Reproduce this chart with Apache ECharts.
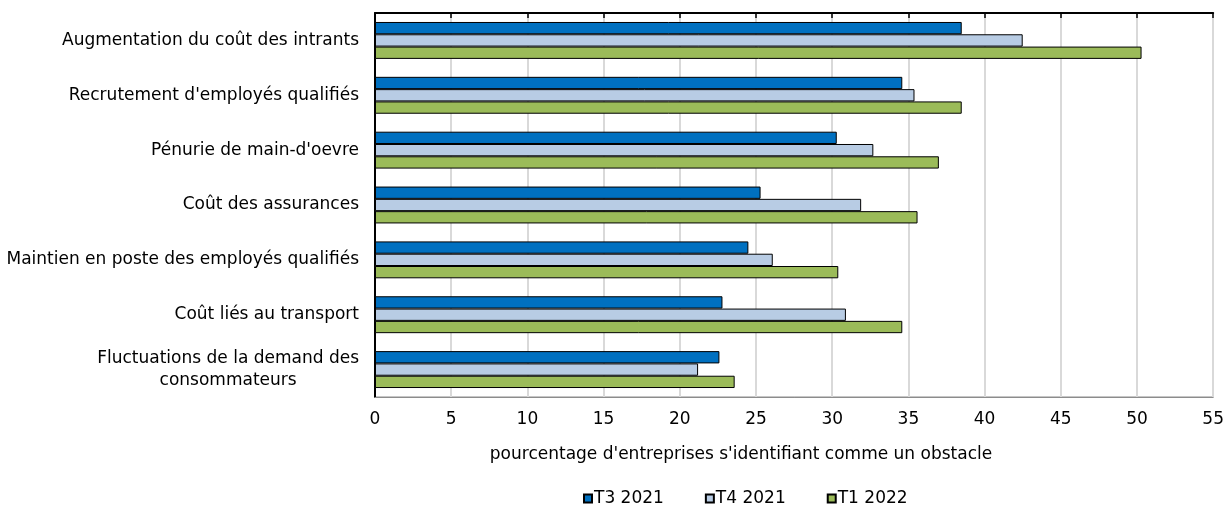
<!DOCTYPE html>
<html>
<head>
<meta charset="utf-8">
<script src="https://cdn.jsdelivr.net/npm/echarts@6/dist/echarts.min.js"></script>
<style>
html,body{margin:0;padding:0;background:#fff;}
#chart{width:1227px;height:508px;}
</style>
</head>
<body>
<div id="chart"></div>
<script>
var categories = [
  "Augmentation du coût des intrants",
  "Recrutement d'employés qualifiés",
  "Pénurie de main-d'oevre",
  "Coût des assurances",
  "Maintien en poste des employés qualifiés",
  "Coût liés au transport",
  "Fluctuations de la demand des\nconsommateurs"
];
var seriesNames = ["T3 2021", "T4 2021", "T1 2022"];
var t3_2021 = [38.5, 34.6, 30.3, 25.3, 24.5, 22.8, 22.6];
var t4_2021 = [42.5, 35.4, 32.7, 31.9, 26.1, 30.9, 21.2];
var t1_2022 = [50.3, 38.5, 37.0, 35.6, 30.4, 34.6, 23.6];
var xTicks = [0, 5, 10, 15, 20, 25, 30, 35, 40, 45, 50, 55];
var axisTitle = "pourcentage d'entreprises s'identifiant comme un obstacle";

var FONT = "DejaVu Sans";
var FS = 17;
var colors = ["#0070c0", "#b8cce4", "#9bbb59"];
var values = [t3_2021, t4_2021, t1_2022];

var chart = echarts.init(document.getElementById('chart'));
var series = seriesNames.map(function (n, i) {
  return {
    name: n,
    type: 'bar',
    data: values[i],
    barWidth: 12.3,
    barGap: '0%',
    itemStyle: { color: colors[i], borderColor: '#000', borderWidth: 1 },
    emphasis: { disabled: true },
    silent: true
  };
});

chart.setOption({
  animation: false,
  textStyle: { fontFamily: FONT },
  grid: { left: 375, right: 11, top: 13, bottom: 111, show: true, borderColor: '#8c8c8c', borderWidth: 1, backgroundColor: 'transparent' },
  legend: {
    data: seriesNames,
    left: 583,
    top: 490,
    padding: 0,
    icon: 'rect',
    itemWidth: 8,
    itemHeight: 8,
    itemGap: 41,
    textStyle: { fontFamily: FONT, fontSize: FS, color: '#000', padding: [0, 0, 0, -3] }
  },
  xAxis: [{
    type: 'value',
    min: xTicks[0],
    max: xTicks[xTicks.length - 1],
    interval: xTicks[1] - xTicks[0],
    position: 'bottom',
    axisLine: { show: true, lineStyle: { color: '#8c8c8c', width: 1 } },
    axisTick: { show: false },
    axisLabel: { fontFamily: FONT, fontSize: FS, color: '#000', margin: 14 },
    splitLine: { show: true, lineStyle: { color: '#d9d9d9', width: 2 } }
  }, {
    type: 'value',
    min: xTicks[0],
    max: xTicks[xTicks.length - 1],
    interval: xTicks[1] - xTicks[0],
    position: 'top',
    axisLine: { show: true, lineStyle: { color: '#000', width: 2 } },
    axisTick: { show: true, inside: true, length: 5, lineStyle: { color: '#000', width: 1.5 } },
    axisLabel: { show: false },
    splitLine: { show: false }
  }],
  yAxis: {
    type: 'category',
    data: categories,
    inverse: true,
    axisLine: { show: true, lineStyle: { color: '#000', width: 2 } },
    axisTick: { show: false },
    axisLabel: {
      margin: 16,
      formatter: function (v) {
        return v.split('\n').map(function (l) { return '{c|' + l + '}'; }).join('\n');
      },
      rich: {
        c: { fontFamily: FONT, fontSize: FS, color: '#000', align: 'center', lineHeight: 22 }
      }
    }
  },
  graphic: [{
    type: 'text',
    x: 741,
    y: 455,
    style: {
      text: axisTitle,
      align: 'center',
      verticalAlign: 'middle',
      font: FS + 'px "' + FONT + '"',
      fill: '#000'
    }
  }],
  series: series
});
</script>
</body>
</html>
